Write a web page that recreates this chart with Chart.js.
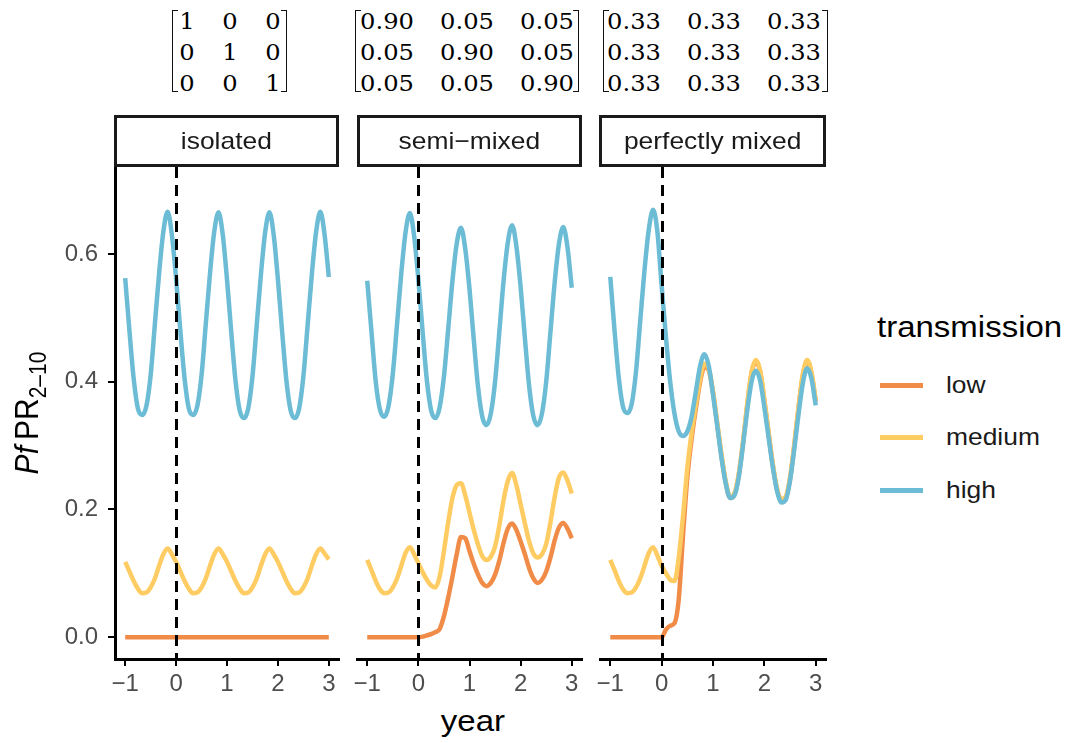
<!DOCTYPE html>
<html>
<head>
<meta charset="utf-8">
<script src="https://cdn.jsdelivr.net/npm/chart.js@4.4.0/dist/chart.umd.min.js"></script>
<style>
  body { margin: 0; background: #fff; font-family: 'Liberation Sans', Arial, sans-serif; }
  #page { position: relative; width: 1070px; height: 743px; overflow: hidden; }
  canvas { position: absolute; }
  .strip { position: absolute; top: 115px; height: 52px; box-sizing: border-box; border: 3px solid #1a1a1a;
           display: flex; align-items: center; justify-content: center; font-size: 24px; color: #1a1a1a; }
  .strip span { display: inline-block; transform: scaleX(1.1); }
  .br { position: absolute; top: 10px; height: 82px; width: 6px; box-sizing: border-box; border: 1.6px solid #111; }
  .br.l { border-right: none; }
  .br.r { border-left: none; }
  .cell { position: absolute; transform: translate(-50%, -50%) scaleX(1.1); white-space: nowrap;
          font-family: 'DejaVu Serif', serif; font-size: 22px; color: #000; }
  .txt { position: absolute; white-space: nowrap; transform-origin: 0 50%; }
  .key { position: absolute; left: 880px; width: 43px; height: 5px; }
</style>
</head>
<body>
<div id="page">
  <canvas id="c1" width="345" height="543" style="left:0px;top:157px"></canvas>
  <canvas id="c2" width="243" height="543" style="left:345px;top:157px"></canvas>
  <canvas id="c3" width="250" height="543" style="left:588px;top:157px"></canvas>
</div>
<script>
// facets and mixing matrices
const panels = ['isolated', 'semi\u2212mixed', 'perfectly mixed'];
const isolatedMix = [['1', '0', '0'], ['0', '1', '0'], ['0', '0', '1']];
const semiMix = [['0.90', '0.05', '0.05'], ['0.05', '0.90', '0.05'], ['0.05', '0.05', '0.90']];
const perfectMix = [['0.33', '0.33', '0.33'], ['0.33', '0.33', '0.33'], ['0.33', '0.33', '0.33']];

// monthly time grid, year -1 .. 3
const months = Array.from({ length: 49 }, (_, i) => i - 12);
const years = months.map(m => m / 12);

const xTicks = [-1, 0, 1, 2, 3];
const yTicks = [0, 0.2, 0.4, 0.6];
const levels = ['low', 'medium', 'high'];

// isolated
const isoLow = new Array(49).fill(0);
const isoMedium = [
  .118, .103, .088, .076, .069, .070, .078, .092, .112, .130, .139, .130,
  .118, .103, .088, .076, .069, .070, .078, .092, .112, .130, .139, .130,
  .118, .103, .088, .076, .069, .070, .078, .092, .112, .130, .139, .130,
  .118, .103, .088, .076, .069, .070, .078, .092, .112, .130, .139, .131, .122
];
const isoHigh = [
  .562, .480, .405, .358, .348, .362, .410, .490, .570, .635, .666, .630,
  .562, .480, .405, .358, .348, .362, .410, .490, .570, .635, .665, .630,
  .560, .478, .402, .355, .343, .358, .408, .488, .568, .634, .665, .630,
  .560, .478, .402, .355, .343, .358, .408, .488, .568, .634, .666, .630, .564
];

// semi-mixed
const semiLow = [
  0, 0, 0, 0, 0, 0, 0, 0, 0, 0, 0, 0,
  0, .001, .003, .005, .008, .013, .033, .062, .095, .130, .157, .155,
  .135, .115, .098, .085, .080, .085, .098, .120, .148, .170, .178, .168,
  .150, .130, .108, .092, .085, .090, .103, .125, .152, .172, .179, .170, .155
];
const semiMedium = [
  .121, .105, .088, .075, .069, .070, .078, .092, .112, .132, .141, .130,
  .116, .102, .090, .081, .078, .095, .135, .180, .218, .238, .241, .222,
  .195, .168, .145, .127, .121, .126, .142, .175, .215, .245, .257, .238,
  .208, .178, .150, .131, .125, .130, .146, .180, .220, .250, .258, .245, .225
];
const semiHigh = [
  .558, .478, .400, .356, .345, .362, .412, .490, .570, .634, .664, .628,
  .560, .478, .402, .355, .343, .360, .408, .482, .558, .616, .641, .608,
  .545, .466, .392, .345, .332, .350, .400, .478, .558, .618, .645, .612,
  .548, .468, .393, .346, .332, .350, .400, .478, .556, .616, .642, .610, .547
];

// perfectly mixed
const perfLow = [
  0, 0, 0, 0, 0, 0, 0, 0, 0, 0, 0, 0,
  0, .012, .018, .022, .060, .160, .250, .310, .358, .400, .423, .418,
  .383, .333, .283, .241, .218, .223, .253, .303, .363, .413, .432, .416,
  .370, .318, .268, .230, .214, .218, .248, .300, .360, .410, .432, .413, .369
];
const perfMedium = [
  .121, .105, .088, .075, .069, .070, .078, .092, .112, .132, .141, .128,
  .112, .100, .090, .088, .125, .190, .265, .320, .365, .405, .428, .420,
  .385, .335, .285, .243, .220, .225, .255, .305, .365, .415, .434, .418,
  .372, .320, .270, .232, .216, .220, .250, .302, .362, .412, .434, .415, .371
];
const perfHigh = [
  .564, .480, .405, .360, .351, .365, .415, .495, .575, .638, .669, .635,
  .550, .470, .400, .350, .322, .315, .322, .345, .385, .425, .443, .425,
  .380, .330, .280, .240, .218, .222, .250, .300, .355, .400, .417, .402,
  .360, .312, .265, .228, .211, .215, .245, .295, .350, .398, .421, .405, .363
];

const colors = { low: '#F08C48', medium: '#FECC62', high: '#6CBCD6' };
const tickFont = { family: 'Liberation Sans', size: 24 };

const page = document.getElementById('page');
function add(html) { page.insertAdjacentHTML('beforeend', html); }

// matrices above the strips
const matLayout = [
  { l: 172, r: 287, cols: [187, 230, 273] },
  { l: 355, r: 579, cols: [387, 467, 547] },
  { l: 603, r: 828, cols: [634, 714, 794] }
];
const rowsY = [21, 52, 83];
[isolatedMix, semiMix, perfectMix].forEach((m, i) => {
  const g = matLayout[i];
  add(`<div class="br l" style="left:${g.l}px"></div>`);
  add(`<div class="br r" style="left:${g.r - 6}px"></div>`);
  m.forEach((row, r) => row.forEach((v, c) => {
    add(`<div class="cell" style="left:${g.cols[c]}px;top:${rowsY[r]}px">${v}</div>`);
  }));
});

// facet strips
const stripX = [[114, 339], [357, 582], [599, 826]];
panels.forEach((p, i) => {
  add(`<div class="strip" style="left:${stripX[i][0]}px;width:${stripX[i][1] - stripX[i][0]}px"><span>${p}</span></div>`);
});

// axis titles
add(`<div style="position:absolute;left:30px;top:413px;width:0;height:0;transform:scaleX(1.1) rotate(-90deg)">
  <span style="position:absolute;transform:translate(-50%,-50%);white-space:nowrap;font-size:30px;color:#000">
  <i>Pf</i>&thinsp;PR<sub style="font-size:21px;vertical-align:-7px">2\u201310</sub></span></div>`);
add(`<div class="txt" style="left:470px;top:721px;font-size:30px;color:#000;transform:translate(-50%,-50%) scaleX(1.1)">year</div>`);

// legend
add(`<div class="txt" style="left:877px;top:310px;font-size:30px;line-height:34px;color:#000;transform:scaleX(1.1)">transmission</div>`);
const legendY = [385, 437, 490];
levels.forEach((lv, i) => {
  add(`<div class="key" style="top:${legendY[i] - 2}px;background:${colors[lv]}"></div>`);
  add(`<div class="txt" style="left:946px;top:${legendY[i] - 14}px;font-size:24px;line-height:28px;color:#1a1a1a;transform:scaleX(1.1)">${lv}</div>`);
});

// dashed line at year 0
const vline = {
  id: 'vline',
  afterDatasetsDraw(chart) {
    const { ctx, chartArea } = chart;
    const x = Math.round(chart.scales.x.getPixelForValue(0)) + 0.5;
    ctx.save();
    ctx.strokeStyle = '#000';
    ctx.lineWidth = 3;
    ctx.setLineDash([11, 7]);
    ctx.beginPath();
    ctx.moveTo(x, chartArea.top);
    ctx.lineTo(x, chartArea.bottom);
    ctx.stroke();
    ctx.restore();
  }
};

function makePanel(id, series, showY, pad) {
  const datasets = levels.map((lv, i) => ({
    label: lv,
    data: years.map((x, k) => ({ x: x, y: series[i][k] })),
    borderColor: colors[lv],
    borderWidth: 4.5,
    pointRadius: 0,
    fill: false,
    cubicInterpolationMode: 'monotone',
    borderJoinStyle: 'round',
    order: 2 - i
  }));
  return new Chart(document.getElementById(id), {
    type: 'line',
    data: { datasets: datasets },
    plugins: [vline],
    options: {
      responsive: false,
      animation: false,
      events: [],
      layout: { padding: pad },
      plugins: { legend: { display: false }, tooltip: { enabled: false } },
      scales: {
        x: {
          type: 'linear', min: -1.2, max: 3.2,
          afterBuildTicks: s => { s.ticks = xTicks.map(v => ({ value: v })); },
          afterFit: s => { s.height = 41; s.paddingLeft = 0; s.paddingRight = 0; },
          ticks: { font: tickFont, color: '#4D4D4D', padding: 4, maxRotation: 0, autoSkip: false,
                   callback: v => v < 0 ? '\u2212' + (-v) : String(v) },
          grid: { drawOnChartArea: false, color: '#000', lineWidth: 2, tickLength: 7 },
          border: { color: '#000', width: 3 }
        },
        y: {
          display: showY,
          min: -0.034, max: 0.736,
          afterBuildTicks: s => { s.ticks = yTicks.map(v => ({ value: v })); },
          afterFit: s => { s.width = showY ? 115 : 0; s.paddingTop = 0; s.paddingBottom = 0; },
          ticks: { font: tickFont, color: '#4D4D4D', padding: 10, callback: v => v.toFixed(1) },
          grid: { drawOnChartArea: false, color: '#000', lineWidth: 2, tickLength: 7 },
          border: { color: '#000', width: 3 }
        }
      }
    }
  });
}

makePanel('c1', [isoLow, isoMedium, isoHigh], true, { top: 10, right: 6, left: 0, bottom: 0 });
makePanel('c2', [semiLow, semiMedium, semiHigh], false, { top: 10, right: 6, left: 12, bottom: 0 });
makePanel('c3', [perfLow, perfMedium, perfHigh], false, { top: 10, right: 12, left: 12, bottom: 0 });
</script>
</body>
</html>
